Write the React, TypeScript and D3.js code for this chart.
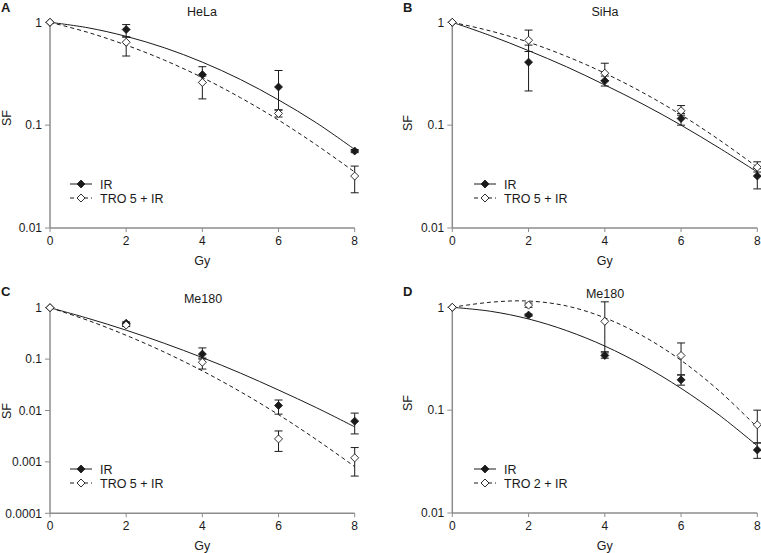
import React from "react";
import * as d3 from "d3";

// ---------- data ----------
const doses = [0, 2, 4, 6, 8];
const curveDoses = [0, 1, 2, 3, 4, 5, 6, 7, 8];
const xTicks = [0, 2, 4, 6, 8];

const helaIR = [1, 0.85, 0.31, 0.235, 0.056];
const helaIRLow = [1, 0.72, 0.26, 0.141, 0.054];
const helaIRHigh = [1, 0.95, 0.37, 0.34, 0.058];
const helaTRO = [1, 0.64, 0.26, 0.13, 0.032];
const helaTROLow = [1, 0.47, 0.18, 0.12, 0.022];
const helaTROHigh = [1, 0.72, 0.3, 0.14, 0.04];
const helaIRFit = [1, 0.884, 0.73, 0.566, 0.41, 0.278, 0.176, 0.105, 0.058];
const helaTROFit = [1, 0.797, 0.6, 0.429, 0.29, 0.185, 0.112, 0.064, 0.035];

const sihaIR = [1, 0.41, 0.27, 0.116, 0.032];
const sihaIRLow = [1, 0.215, 0.24, 0.1, 0.024];
const sihaIRHigh = [1, 0.6, 0.3, 0.13, 0.038];
const sihaTRO = [1, 0.67, 0.32, 0.138, 0.039];
const sihaTROLow = [1, 0.52, 0.27, 0.125, 0.035];
const sihaTROHigh = [1, 0.84, 0.4, 0.155, 0.044];
const sihaIRFit = [1, 0.742, 0.53, 0.369, 0.246, 0.16, 0.1, 0.06, 0.035];
const sihaTROFit = [1, 0.824, 0.64, 0.466, 0.32, 0.207, 0.126, 0.072, 0.039];

const me5IR = [1, 0.5, 0.125, 0.0125, 0.0062];
const me5IRLow = [1, 0.47, 0.1, 0.0085, 0.0035];
const me5IRHigh = [1, 0.53, 0.165, 0.016, 0.0089];
const me5TRO = [1, 0.46, 0.087, 0.0028, 0.0012];
const me5TROLow = [1, 0.43, 0.064, 0.0016, 0.00053];
const me5TROHigh = [1, 0.49, 0.105, 0.004, 0.0019];
const me5IRFit = [1, 0.62, 0.365, 0.203, 0.107, 0.0534, 0.025, 0.0113, 0.0048];
const me5TROFit = [1, 0.565, 0.29, 0.137, 0.059, 0.0232, 0.0083, 0.0027, 0.00081];

const me2IR = [1, 0.84, 0.34, 0.197, 0.041];
const me2IRLow = [1, 0.82, 0.32, 0.175, 0.034];
const me2IRHigh = [1, 0.86, 0.37, 0.22, 0.048];
const me2TRO = [1, 1.05, 0.73, 0.34, 0.072];
const me2TROLow = [1, 1.0, 0.36, 0.22, 0.048];
const me2TROHigh = [1, 1.1, 1.13, 0.45, 0.1];
const me2IRFit = [1, 0.915, 0.77, 0.593, 0.42, 0.273, 0.163, 0.0896, 0.045];
const me2TROFit = [1, 1.12, 1.15, 1.03, 0.79, 0.526, 0.305, 0.154, 0.068];

const yTicks3 = [1, 0.1, 0.01];
const yTicks5 = [1, 0.1, 0.01, 0.001, 0.0001];
const yTickLabels3 = ["1", "0.1", "0.01"];
const yTickLabels5 = ["1", "0.1", "0.01", "0.001", "0.0001"];

// ---------- drawing ----------
const FONT = "'Liberation Sans', Arial, sans-serif";
const AXIS = "#8c8c8c";
const INK = "#1a1a1a";

type Series = { v: number[]; lo: number[]; hi: number[]; fit: number[] };

type PanelProps = {
  letter: string;
  title: string;
  x0: number;
  x1: number;
  yTop: number;
  yBot: number;
  yMin: number;
  ticks: number[];
  tickLabels: string[];
  ir: Series;
  tro: Series;
  troLabel: string;
  letterX: number;
  letterY: number;
  titleX: number;
  titleY: number;
  sfX: number;
  sfY: number;
  legX: number;
  legY: number;
};

function diamond(cx: number, cy: number, r: number) {
  return `M${cx},${cy - r}L${cx + r},${cy}L${cx},${cy + r}L${cx - r},${cy}Z`;
}

function Panel(p: PanelProps) {
  const x = d3.scaleLinear().domain([0, 8]).range([p.x0, p.x1]);
  const y = d3.scaleLog().domain([p.yMin, 1]).range([p.yBot, p.yTop]);
  const line = d3
    .line<number>()
    .x((_, i) => x(curveDoses[i]))
    .y((d) => y(d))
    .curve(d3.curveCatmullRom.alpha(0.5));
  const R = 4;
  const cap = 4;

  const errBars = (s: Series, key: string) =>
    doses.map((d, i) =>
      d === 0 ? null : (
        <g key={key + i} stroke={INK} strokeWidth={1}>
          <line x1={x(d)} x2={x(d)} y1={y(s.lo[i])} y2={y(s.hi[i])} />
          <line x1={x(d) - cap} x2={x(d) + cap} y1={y(s.lo[i])} y2={y(s.lo[i])} />
          <line x1={x(d) - cap} x2={x(d) + cap} y1={y(s.hi[i])} y2={y(s.hi[i])} />
        </g>
      )
    );

  return (
    <g>
      <text x={p.letterX} y={p.letterY} fontFamily={FONT} fontWeight="bold" fontSize={13} fill={INK}>
        {p.letter}
      </text>
      <text x={p.titleX} y={p.titleY} fontFamily={FONT} fontSize={12.5} fill={INK} textAnchor="middle">
        {p.title}
      </text>
      {/* axes */}
      <line x1={p.x0} x2={p.x0} y1={p.yTop} y2={p.yBot} stroke={AXIS} strokeWidth={1.5} />
      <line x1={p.x0} x2={p.x1} y1={p.yBot} y2={p.yBot} stroke={AXIS} strokeWidth={1.5} />
      {p.ticks.map((t, i) => (
        <g key={"yt" + i}>
          <line x1={p.x0 - 5} x2={p.x0} y1={y(t)} y2={y(t)} stroke={AXIS} strokeWidth={1} />
          <text
            x={p.x0 - 8}
            y={y(t) + 4.3}
            fontFamily={FONT}
            fontSize={12}
            fill={INK}
            textAnchor="end"
          >
            {p.tickLabels[i]}
          </text>
        </g>
      ))}
      {xTicks.map((t) => (
        <g key={"xt" + t}>
          <line x1={x(t)} x2={x(t)} y1={p.yBot} y2={p.yBot + 4} stroke={AXIS} strokeWidth={1} />
          <text x={x(t)} y={p.yBot + 17} fontFamily={FONT} fontSize={12} fill={INK} textAnchor="middle">
            {t}
          </text>
        </g>
      ))}
      <text
        x={(p.x0 + p.x1) / 2}
        y={p.yBot + 37}
        fontFamily={FONT}
        fontSize={12.5}
        fill={INK}
        textAnchor="middle"
      >
        Gy
      </text>
      <text
        transform={`translate(${p.sfX},${p.sfY}) rotate(-90)`}
        fontFamily={FONT}
        fontSize={12.5}
        fill={INK}
        textAnchor="middle"
      >
        SF
      </text>
      {/* fits */}
      <path d={line(p.ir.fit) || ""} fill="none" stroke={INK} strokeWidth={1} />
      <path d={line(p.tro.fit) || ""} fill="none" stroke={INK} strokeWidth={1} strokeDasharray="4,3" />
      {errBars(p.ir, "ei")}
      {errBars(p.tro, "et")}
      {doses.map((d, i) => (
        <path key={"mi" + i} d={diamond(x(d), y(p.ir.v[i]), R)} fill={INK} stroke={INK} strokeWidth={0.8} />
      ))}
      {doses.map((d, i) => (
        <path key={"mt" + i} d={diamond(x(d), y(p.tro.v[i]), R)} fill="#fff" stroke={INK} strokeWidth={0.9} />
      ))}
      {/* legend */}
      <line x1={p.legX} x2={p.legX + 22} y1={p.legY} y2={p.legY} stroke={INK} strokeWidth={1} />
      <path d={diamond(p.legX + 11, p.legY, R)} fill={INK} stroke={INK} strokeWidth={0.8} />
      <text x={p.legX + 30} y={p.legY + 4.5} fontFamily={FONT} fontSize={12.5} fill={INK}>
        IR
      </text>
      <line
        x1={p.legX}
        x2={p.legX + 22}
        y1={p.legY + 14}
        y2={p.legY + 14}
        stroke={INK}
        strokeWidth={1}
        strokeDasharray="4,3"
      />
      <path d={diamond(p.legX + 11, p.legY + 14, R)} fill="#fff" stroke={INK} strokeWidth={0.9} />
      <text x={p.legX + 30} y={p.legY + 18.5} fontFamily={FONT} fontSize={12.5} fill={INK}>
        {p.troLabel}
      </text>
    </g>
  );
}

export default function App() {
  return (
    <svg
      width={761}
      height={553}
      style={{ position: "absolute", left: 0, top: 0, background: "#fff" }}
    >
      <rect width={761} height={553} fill="#fff" />
      <Panel
        letter="A"
        title="HeLa"
        x0={50}
        x1={354.7}
        yTop={22.3}
        yBot={228}
        yMin={0.01}
        ticks={yTicks3}
        tickLabels={yTickLabels3}
        ir={{ v: helaIR, lo: helaIRLow, hi: helaIRHigh, fit: helaIRFit }}
        tro={{ v: helaTRO, lo: helaTROLow, hi: helaTROHigh, fit: helaTROFit }}
        troLabel="TRO 5 + IR"
        letterX={1}
        letterY={12}
        titleX={202}
        titleY={16}
        sfX={11}
        sfY={118}
        legX={70}
        legY={184}
      />
      <Panel
        letter="B"
        title="SiHa"
        x0={452.3}
        x1={757.3}
        yTop={22.3}
        yBot={228}
        yMin={0.01}
        ticks={yTicks3}
        tickLabels={yTickLabels3}
        ir={{ v: sihaIR, lo: sihaIRLow, hi: sihaIRHigh, fit: sihaIRFit }}
        tro={{ v: sihaTRO, lo: sihaTROLow, hi: sihaTROHigh, fit: sihaTROFit }}
        troLabel="TRO 5 + IR"
        letterX={403}
        letterY={12}
        titleX={605}
        titleY={16}
        sfX={412}
        sfY={123}
        legX={474}
        legY={184}
      />
      <Panel
        letter="C"
        title="Me180"
        x0={50}
        x1={354.7}
        yTop={307.7}
        yBot={513.3}
        yMin={0.0001}
        ticks={yTicks5}
        tickLabels={yTickLabels5}
        ir={{ v: me5IR, lo: me5IRLow, hi: me5IRHigh, fit: me5IRFit }}
        tro={{ v: me5TRO, lo: me5TROLow, hi: me5TROHigh, fit: me5TROFit }}
        troLabel="TRO 5 + IR"
        letterX={1}
        letterY={296}
        titleX={203}
        titleY={303}
        sfX={11}
        sfY={411}
        legX={70}
        legY={469}
      />
      <Panel
        letter="D"
        title="Me180"
        x0={452.3}
        x1={757.3}
        yTop={307.3}
        yBot={513}
        yMin={0.01}
        ticks={yTicks3}
        tickLabels={yTickLabels3}
        ir={{ v: me2IR, lo: me2IRLow, hi: me2IRHigh, fit: me2IRFit }}
        tro={{ v: me2TRO, lo: me2TROLow, hi: me2TROHigh, fit: me2TROFit }}
        troLabel="TRO 2 + IR"
        letterX={403}
        letterY={296}
        titleX={605}
        titleY={298}
        sfX={412}
        sfY={403}
        legX={474}
        legY={469}
      />
    </svg>
  );
}
